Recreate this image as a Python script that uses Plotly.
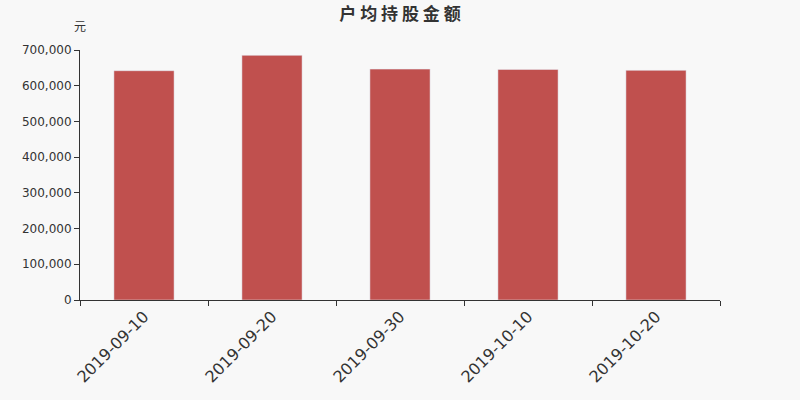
import plotly.graph_objects as go

dates = ["2019-09-10", "2019-09-20", "2019-09-30", "2019-10-10", "2019-10-20"]
amounts = [642000, 685000, 646500, 645500, 643000]

fig = go.Figure()
fig.add_trace(go.Bar(x=dates, y=amounts, marker_color="#c0504e", width=0.47))

fig.update_layout(
    width=800, height=400,
    paper_bgcolor="#f8f8f8", plot_bgcolor="#f8f8f8",
    margin=dict(l=80, r=80, t=50, b=100),
    showlegend=False,
    title=dict(text="<b>户 均 持 股 金 额</b>", x=0.5, xanchor="center", y=0.966, yanchor="middle",
               font=dict(size=17, color="#333", family="Noto Sans CJK SC")),
    font=dict(family="DejaVu Sans", color="#333"),
    annotations=[dict(text="元", xref="paper", yref="paper", x=0, y=1.055, xanchor="center",
                      yanchor="bottom", showarrow=False, font=dict(size=12, color="#333",
                                                                   family="Noto Sans CJK SC"))],
)
fig.update_xaxes(type="category", tickson="boundaries", ticks="outside", ticklen=5,
                 showline=True, linecolor="#333", tickcolor="#333", tickangle=-45,
                 tickfont=dict(size=16, color="#333"), showgrid=False)
fig.update_yaxes(range=[0, 700000], dtick=100000, tickformat=",", ticks="outside", ticklen=5,
                 showline=True, linecolor="#333", tickcolor="#333", showgrid=False,
                 zeroline=False, tickfont=dict(size=12, color="#333"))

# drop the default page margin so the figure sits at the window corner
fig.write_html("out.html", config={"displayModeBar": False},
               post_script="document.body.style.margin='0';")
